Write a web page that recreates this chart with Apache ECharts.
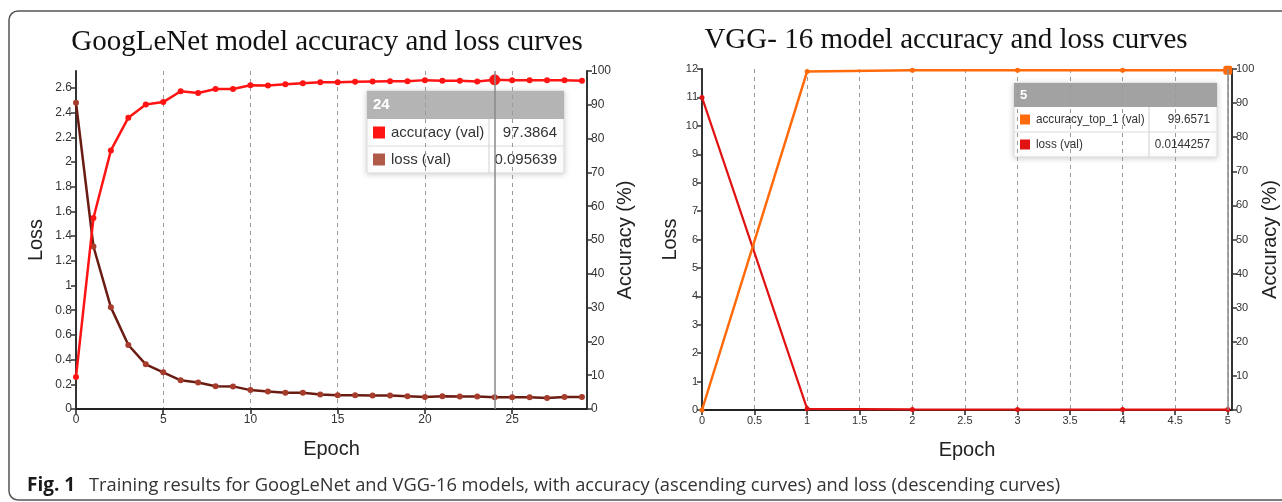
<!DOCTYPE html>
<html><head><meta charset="utf-8">
<script src="https://cdn.jsdelivr.net/npm/echarts@6/dist/echarts.min.js"></script>
<style>html,body{margin:0;padding:0;background:#fff;overflow:hidden}#c{width:1282px;height:502px;}</style>
</head><body><div id="c"></div>
<script>
// ---------- data ----------
const gEpochs   = [0,1,2,3,4,5,6,7,8,9,10,11,12,13,14,15,16,17,18,19,20,21,22,23,24,25,26,27,28,29];
const gAccuracy = [9.5,56.5,76.5,86.2,90.1,90.8,94.0,93.5,94.7,94.7,95.8,95.7,96.1,96.4,96.7,96.7,96.8,96.9,97.0,97.0,97.3,97.1,97.1,96.9,97.3864,97.3,97.3,97.3,97.3,97.1];
const gLoss     = [2.48,1.316,0.823,0.518,0.362,0.297,0.232,0.215,0.185,0.183,0.153,0.142,0.131,0.131,0.117,0.112,0.112,0.109,0.109,0.104,0.098,0.104,0.101,0.101,0.095639,0.095,0.095,0.090,0.098,0.098];
const gTipIndex = 24;

const vEpochs   = [0,1,2,3,4,5];
const vAccuracy = [0,99.3,99.6,99.62,99.64,99.6571];
const vLoss     = [11,0.04,0.02,0.018,0.016,0.0144257];
const vTipIndex = 5;

const titles = ['GoogLeNet model accuracy and loss curves','VGG- 16 model accuracy and loss curves'];
const gNames = ['accuracy (val)','loss (val)'];
const vNames = ['accuracy_top_1 (val)','loss (val)'];
const captionBold = 'Fig. 1';
const captionText = 'Training results for GoogLeNet and VGG-16 models, with accuracy (ascending curves) and loss (descending curves)';

// ---------- styles ----------
const C = {
  gAcc:'#ff1414', gLossLine:'#6a1c12', gLossSym:'#a63c2c', gLossSq:'#b05a4a',
  vAcc:'#ff6a0a', vLoss:'#e01212', axis:'#333', grid:'#9a9a9a', cross:'#8a8a8a'
};
const FONT = '"Liberation Sans", Arimo, Arial, sans-serif';

function pairs(xs, ys){ return xs.map((x,i)=>[x, ys[i]]); }

function xAxisCfg(gridIndex, max, interval, fs){
  return {
    type:'value', gridIndex, min:0, max, interval,
    name:'Epoch', nameLocation:'middle', nameGap:30,
    nameTextStyle:{fontFamily:FONT, fontSize:20, color:'#222'},
    axisLine:{lineStyle:{color:'#222', width:2}},
    axisTick:{show:true, length:5, lineStyle:{color:'#222', width:1.5}},
    axisLabel:{fontFamily:FONT, fontSize:fs, color:'#333', margin:5, showMaxLabel:false},
    splitLine:{show:true, showMinLine:false, showMaxLine:false, lineStyle:{color:C.grid, type:[4,4], width:1}}
  };
}
function yAxisCfg(gridIndex, pos, max, interval, name, gap, fs, showMax){
  return {
    type:'value', gridIndex, position:pos, min:0, max, interval,
    name, nameLocation:'middle', nameGap:gap, nameRotate:90,
    nameTextStyle:{fontFamily:FONT, fontSize:20, color:'#222'},
    axisLine:{show:true, lineStyle:{color:C.axis, width:2}},
    axisTick:{show:true, length:5, lineStyle:{color:C.axis, width:1.5}},
    axisLabel:{fontFamily:FONT, fontSize:fs, color:'#333', margin:4, showMaxLabel:showMax},
    splitLine:{show:false}
  };
}

function crossLine(x){
  return { silent:true, symbol:'none', label:{show:false},
    lineStyle:{color:C.cross, type:'solid', width:1.5}, data:[{xAxis:x}] };
}

// tooltip graphic
function tip(o){
  const els = [];
  const h = o.headH + 2*o.rowH;
  const sx = o.sx || 1;
  els.push({type:'rect', shape:{x:0,y:0,width:o.w,height:h}, style:{fill:'#fff', stroke:'#dcdcdc', lineWidth:1, shadowBlur:6, shadowColor:'rgba(0,0,0,0.18)', shadowOffsetY:1}});
  els.push({type:'rect', shape:{x:0,y:0,width:o.w,height:o.headH}, style:{fill:o.headFill}});
  els.push({type:'text', x:6, y:o.headH/2, style:{text:o.head, fill:'#fff', font:'bold '+o.fs+'px '+FONT, verticalAlign:'middle'}});
  els.push({type:'line', shape:{x1:0,y1:o.headH+o.rowH,x2:o.w,y2:o.headH+o.rowH}, style:{stroke:'#dcdcdc', lineWidth:1}});
  els.push({type:'line', shape:{x1:o.col,y1:o.headH,x2:o.col,y2:h}, style:{stroke:'#d0d0d0', lineWidth:1}});
  o.rows.forEach((r,i)=>{
    const cy = o.headH + o.rowH*i + o.rowH/2;
    els.push({type:'rect', shape:{x:6, y:cy-o.sq/2, width:o.sq, height:o.sq}, style:{fill:r.color}});
    els.push({type:'text', x:6+o.sq+6, y:cy, scaleX:sx, style:{text:r.name, fill:'#333', font:o.fs+'px '+FONT, verticalAlign:'middle'}});
    els.push({type:'text', x:o.w-7, y:cy, scaleX:sx, style:{text:String(r.value), fill:'#333', font:o.fs+'px '+FONT, verticalAlign:'middle', align:'right'}});
  });
  return {type:'group', x:o.x, y:o.y, z:100, children:els};
}

const chart = echarts.init(document.getElementById('c'));
const option = {
  animation:false,
  backgroundColor:'#fff',
  grid:[
    {left:76, top:71, width:511, height:338},
    {left:702, top:69, width:530, height:341}
  ],
  xAxis:[ xAxisCfg(0, 29.29, 5, 12), xAxisCfg(1, 5.04, 0.5, 11) ],
  yAxis:[
    yAxisCfg(0,'left', 2.737, 0.2, 'Loss', 30, 12, false),
    yAxisCfg(0,'right', 100, 10, 'Accuracy (%)', 28, 12, true),
    yAxisCfg(1,'left', 12, 1, 'Loss', 22, 11, true),
    yAxisCfg(1,'right', 100, 10, 'Accuracy (%)', 28, 11, true)
  ],
  series:[
    { type:'line', xAxisIndex:0, yAxisIndex:0, name:gNames[1], data:pairs(gEpochs,gLoss),
      symbol:'circle', symbolSize:6, lineStyle:{color:C.gLossLine, width:2.5},
      itemStyle:{color:C.gLossSym}, z:3 },
    { type:'line', xAxisIndex:0, yAxisIndex:1, name:gNames[0],
      data:pairs(gEpochs,gAccuracy).map((p,i)=> i===gTipIndex ? {value:p, symbolSize:11} : p),
      symbol:'circle', symbolSize:6, lineStyle:{color:C.gAcc, width:2.5},
      itemStyle:{color:C.gAcc}, z:4, markLine:crossLine(gEpochs[gTipIndex]) },
    { type:'line', xAxisIndex:1, yAxisIndex:2, name:vNames[1], data:pairs(vEpochs,vLoss),
      symbol:'circle', symbolSize:5, lineStyle:{color:C.vLoss, width:2.2},
      itemStyle:{color:C.vLoss}, z:3 },
    { type:'line', xAxisIndex:1, yAxisIndex:3, name:vNames[0],
      data:pairs(vEpochs,vAccuracy).map((p,i)=> i===vTipIndex ? {value:p, symbol:'roundRect', symbolSize:9} : p),
      symbol:'circle', symbolSize:5, lineStyle:{color:C.vAcc, width:2.5},
      itemStyle:{color:C.vAcc}, z:4, markLine:crossLine(vEpochs[vTipIndex]) }
  ],
  graphic:[
    {type:'rect', shape:{x:9, y:11, width:1300, height:489, r:9}, style:{fill:'none', stroke:'#555', lineWidth:1.5}, z:0, silent:true},
    {type:'text', x:327, y:42, style:{text:titles[0], font:'29px "Liberation Serif", "Times New Roman", serif', fill:'#111', align:'center', verticalAlign:'middle'}},
    {type:'text', x:946, y:40, style:{text:titles[1], font:'29px "Liberation Serif", "Times New Roman", serif', fill:'#111', align:'center', verticalAlign:'middle'}},
    tip({x:367, y:91, w:197, headH:28, rowH:27, col:122, sq:12, fs:15, headFill:'#b4b4b4',
         head:String(gEpochs[gTipIndex]),
         rows:[{name:gNames[0], value:gAccuracy[gTipIndex], color:C.gAcc},{name:gNames[1], value:gLoss[gTipIndex], color:C.gLossSq}]}),
    tip({x:1014, y:83, w:203, headH:24, rowH:25, col:135, sq:10, fs:13, sx:0.9, headFill:'#a2a2a2',
         head:String(vEpochs[vTipIndex]),
         rows:[{name:vNames[0], value:vAccuracy[vTipIndex], color:C.vAcc},{name:vNames[1], value:vLoss[vTipIndex], color:C.vLoss}]}),
    {type:'text', x:27, y:486, style:{text:captionBold, font:'bold 19px "Open Sans", sans-serif', fill:'#1a1a1a', verticalAlign:'middle'}},
    {type:'text', x:89, y:486, scaleX:0.963, style:{text:captionText, font:'19px "Open Sans", sans-serif', fill:'#333', verticalAlign:'middle'}}
  ]
};
chart.setOption(option);
</script></body></html>
